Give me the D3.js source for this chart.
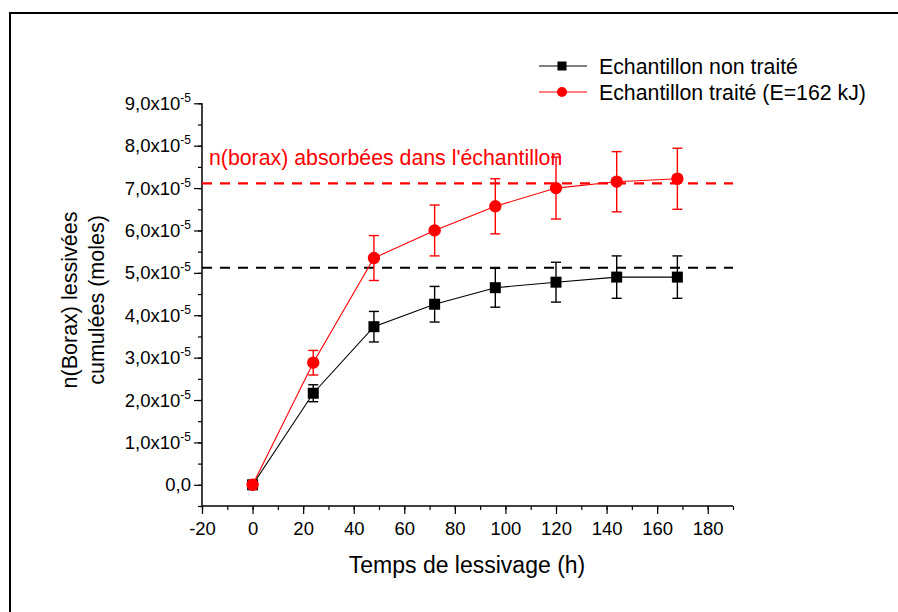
<!DOCTYPE html>
<html>
<head>
<meta charset="utf-8">
<script src="https://cdn.jsdelivr.net/npm/d3@7"></script>
<style>
  html, body { margin: 0; padding: 0; background: #fff; }
  svg { display: block; font-family: "Liberation Sans", Arial, sans-serif; }
</style>
</head>
<body>
<svg id="chart" width="898" height="612"></svg>
<script>
// ---- Data ----
const times = [0, 24, 48, 72, 96, 120, 144, 168];
const untreated = [0, 2.16e-5, 3.73e-5, 4.26e-5, 4.65e-5, 4.78e-5, 4.90e-5, 4.90e-5];
const untreatedErr = [0, 0.20e-5, 0.36e-5, 0.42e-5, 0.46e-5, 0.47e-5, 0.50e-5, 0.50e-5];
const treated = [0, 2.88e-5, 5.35e-5, 6.00e-5, 6.57e-5, 7.00e-5, 7.15e-5, 7.22e-5];
const treatedErr = [0, 0.29e-5, 0.53e-5, 0.60e-5, 0.65e-5, 0.73e-5, 0.71e-5, 0.72e-5];
const absorbedUntreated = 5.12e-5;
const absorbedTreated = 7.11e-5;
const xTicks = [-20, 0, 20, 40, 60, 80, 100, 120, 140, 160, 180];
const yTicks = [0, 1e-5, 2e-5, 3e-5, 4e-5, 5e-5, 6e-5, 7e-5, 8e-5, 9e-5];
const seriesNames = ["Echantillon non traité", "Echantillon traité (E=162 kJ)"];
const annotation = "n(borax) absorbées dans l'échantillon";
const xTitle = "Temps de lessivage (h)";
const yTitleLines = ["n(Borax) lessivées", "cumulées (moles)"];

// ---- Layout ----
const svg = d3.select("#chart");
const pLeft = 202, pRight = 733, pTop = 103.3, pBottom = 506;
const x = d3.scaleLinear().domain([-20, 190]).range([pLeft, pRight]);
const y = d3.scaleLinear().domain([-0.5e-5, 9e-5]).range([pBottom, pTop]);

// outer frame (only top and left visible in reference)
svg.append("rect").attr("x", 10).attr("y", 13).attr("width", 1000).attr("height", 1000)
  .attr("fill", "none").attr("stroke", "#000").attr("stroke-width", 2);

// ---- Axes ----
const xAxis = svg.append("g").attr("transform", `translate(0,${pBottom})`);
xAxis.call(d3.axisBottom(x).tickValues(d3.range(-20, 191, 10)).tickSize(4).tickFormat(""))
  .call(g => g.select(".domain").remove());
xAxis.append("g").call(d3.axisBottom(x).tickValues(xTicks).tickSize(8).tickFormat(d => d))
  .call(g => g.select(".domain").remove())
  .call(g => g.selectAll("text").attr("font-size", 18.5).attr("fill", "#000").attr("dy", 0).attr("y", 29))
  .call(g => g.selectAll("line").attr("stroke", "#000"));
xAxis.selectAll("line").attr("stroke-width", 1.2);
svg.append("line").attr("x1", pLeft).attr("x2", pRight).attr("y1", pBottom).attr("y2", pBottom)
  .attr("stroke", "#000").attr("stroke-width", 1.5);

const yAxis = svg.append("g").attr("transform", `translate(${pLeft},0)`);
yAxis.call(d3.axisLeft(y).tickValues(d3.range(-1, 19).map(i => i * 0.5e-5)).tickSize(4).tickFormat(""))
  .call(g => g.select(".domain").remove());
yAxis.append("g").call(d3.axisLeft(y).tickValues(yTicks).tickSize(8).tickFormat(""))
  .call(g => g.select(".domain").remove());
yAxis.selectAll("line").attr("stroke-width", 1.2).attr("stroke", "#000");
svg.append("line").attr("x1", pLeft).attr("x2", pLeft).attr("y1", pTop).attr("y2", pBottom)
  .attr("stroke", "#000").attr("stroke-width", 1.5);

// y tick labels with superscript
const yLab = svg.append("g").attr("font-size", 18.5).attr("text-anchor", "end");
yTicks.forEach(v => {
  const t = yLab.append("text").attr("x", 191).attr("y", y(v) + 6.5);
  if (v === 0) {
    t.text("0,0");
  } else {
    const m = Math.round(v / 1e-5);
    t.append("tspan").text(m + ",0x10");
    t.append("tspan").attr("dy", -8).attr("font-size", 12).text("-5");
  }
});

// ---- Reference dashed lines ----
svg.append("line").attr("x1", pLeft).attr("x2", pRight)
  .attr("y1", y(absorbedTreated)).attr("y2", y(absorbedTreated))
  .attr("stroke", "#ff0000").attr("stroke-width", 2.2).attr("stroke-dasharray", "10,8");
svg.append("line").attr("x1", pLeft).attr("x2", pRight)
  .attr("y1", y(absorbedUntreated)).attr("y2", y(absorbedUntreated))
  .attr("stroke", "#000").attr("stroke-width", 2.2).attr("stroke-dasharray", "10,8");

svg.append("text").attr("x", 209).attr("y", 165).attr("fill", "#ff0000")
  .attr("font-size", 21.3).text(annotation);

// ---- Series ----
function drawSeries(vals, errs, color, shape) {
  const pts = times.map((t, i) => ({ t, v: vals[i], e: errs[i] }));
  svg.append("path").datum(pts)
    .attr("d", d3.line().x(d => x(d.t)).y(d => y(d.v)))
    .attr("fill", "none").attr("stroke", color).attr("stroke-width", 1.1);
  const eb = svg.append("g").attr("stroke", color).attr("stroke-width", 1.4);
  pts.filter(d => d.e > 0).forEach(d => {
    eb.append("line").attr("x1", x(d.t)).attr("x2", x(d.t)).attr("y1", y(d.v - d.e)).attr("y2", y(d.v + d.e));
    eb.append("line").attr("x1", x(d.t) - 5).attr("x2", x(d.t) + 5).attr("y1", y(d.v - d.e)).attr("y2", y(d.v - d.e));
    eb.append("line").attr("x1", x(d.t) - 5).attr("x2", x(d.t) + 5).attr("y1", y(d.v + d.e)).attr("y2", y(d.v + d.e));
  });
  const mk = svg.append("g").attr("fill", color);
  pts.forEach(d => {
    if (shape === "square") {
      mk.append("rect").attr("x", x(d.t) - 5.5).attr("y", y(d.v) - 5.5).attr("width", 11).attr("height", 11);
    } else {
      mk.append("circle").attr("cx", x(d.t)).attr("cy", y(d.v)).attr("r", 6.2);
    }
  });
}
drawSeries(untreated, untreatedErr, "#000", "square");
drawSeries(treated, treatedErr, "#ff0000", "circle");

// ---- Legend ----
const leg = svg.append("g");
[["#000", "square", 66], ["#ff0000", "circle", 92]].forEach((c, i) => {
  leg.append("line").attr("x1", 539).attr("x2", 587).attr("y1", c[2]).attr("y2", c[2])
    .attr("stroke", c[0]).attr("stroke-width", 1.1);
  if (c[1] === "square") {
    leg.append("rect").attr("x", 557.5).attr("y", c[2] - 4.5).attr("width", 9).attr("height", 9).attr("fill", c[0]);
  } else {
    leg.append("circle").attr("cx", 562).attr("cy", c[2]).attr("r", 5).attr("fill", c[0]);
  }
  leg.append("text").attr("x", 599).attr("y", c[2] + 7.5).attr("font-size", 21.3).attr("fill", "#000").text(seriesNames[i]);
});

// ---- Axis titles ----
svg.append("text").attr("x", 467).attr("y", 573).attr("text-anchor", "middle")
  .attr("font-size", 23).text(xTitle);
yTitleLines.forEach((s, i) => {
  svg.append("text").attr("transform", `translate(${77 + i * 27},300) rotate(-90)`)
    .attr("text-anchor", "middle").attr("font-size", 21.5).text(s);
});
</script>
</body>
</html>
